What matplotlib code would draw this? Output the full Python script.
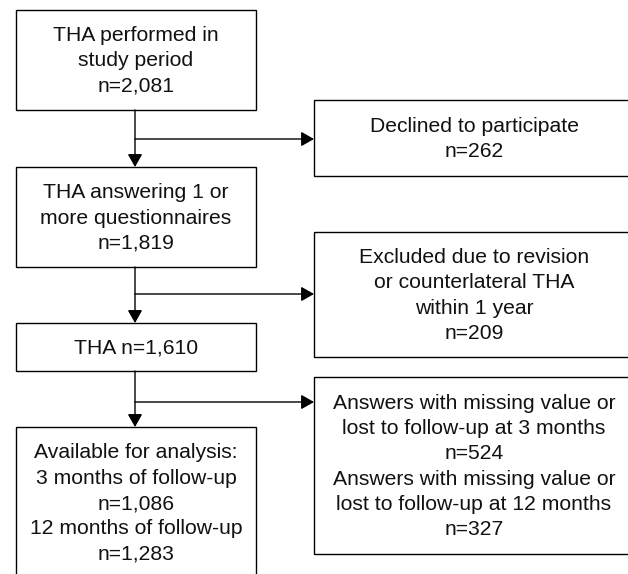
import matplotlib
matplotlib.use("Agg")
import matplotlib.pyplot as plt
from matplotlib.patches import Rectangle, FancyArrowPatch

plt.rcParams['font.family'] = ['Liberation Sans', 'DejaVu Sans']

# Flow content
main_texts = [
    "THA performed in\nstudy period\nn=2,081",
    "THA answering 1 or\nmore questionnaires\nn=1,819",
    "THA n=1,610",
    "Available for analysis:\n3 months of follow-up\nn=1,086\n12 months of follow-up\nn=1,283",
]
side_texts = [
    "Declined to participate\nn=262",
    "Excluded due to revision\nor counterlateral THA\nwithin 1 year\nn=209",
    "Answers with missing value or\nlost to follow-up at 3 months\nn=524\nAnswers with missing value or\nlost to follow-up at 12 months\nn=327",
]

# Layout (pixel coordinates)
W, H = 628, 574
main_x0, main_x1 = 16, 256
main_y = [(10, 110), (167, 267), (323, 371), (427, 578)]
side_x0, side_x1 = 314, 634
side_y = [(100, 176), (232, 357), (377, 554)]
branch_y = [139, 294, 402]
stem_x = 135

fig = plt.figure(figsize=(W / 100, H / 100), dpi=100)
ax = fig.add_axes([0, 0, 1, 1])
ax.set_xlim(0, W)
ax.set_ylim(H, 0)
ax.axis('off')

lw = 1.0
ec = '#000000'
fs = 15.2

def box(x0, x1, y0, y1, text):
    ax.add_patch(Rectangle((x0, y0), x1 - x0, y1 - y0, fill=False, ec=ec, lw=lw))
    ax.text((x0 + x1) / 2, (y0 + y1) / 2 + 1, text, ha='center', va='center',
            fontsize=fs, linespacing=1.42, color='#111111')

for t, (y0, y1) in zip(main_texts, main_y):
    box(main_x0, main_x1, y0, y1, t)
for t, (y0, y1) in zip(side_texts, side_y):
    box(side_x0, side_x1, y0, y1, t)

def arrow(p0, p1):
    ax.add_patch(FancyArrowPatch(p0, p1, arrowstyle='-|>,head_length=0.65,head_width=0.37',
                                 mutation_scale=12, lw=lw, color=ec, shrinkA=0, shrinkB=0))

# vertical arrows between main boxes
for i in range(len(main_y) - 1):
    arrow((stem_x, main_y[i][1]), (stem_x, main_y[i + 1][0]))
# horizontal branches
for by in branch_y:
    arrow((stem_x, by), (side_x0, by))

fig.savefig("out.png", dpi=100)
